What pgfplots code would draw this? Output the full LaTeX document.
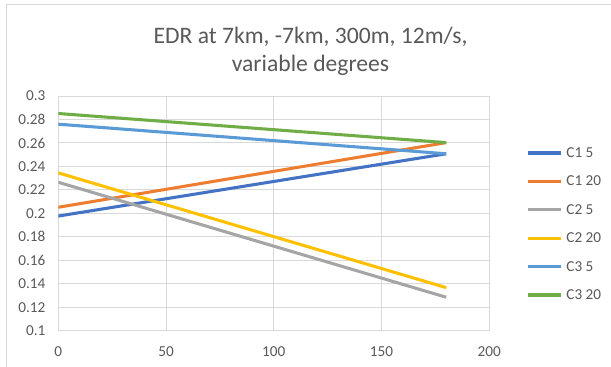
\documentclass[border=0pt]{standalone}
\usepackage{pgfplots}
\pgfplotsset{compat=1.18}
\usepackage{fontspec}
\setmainfont{Carlito}

\definecolor{txtgray}{HTML}{595959}
\definecolor{gridgray}{HTML}{D9D9D9}
\definecolor{sBlue}{HTML}{4472C4}
\definecolor{sOrange}{HTML}{ED7D31}
\definecolor{sGray}{HTML}{A5A5A5}
\definecolor{sYellow}{HTML}{FFC000}
\definecolor{sLightBlue}{HTML}{5B9BD5}
\definecolor{sGreen}{HTML}{70AD47}

\begin{document}
\begin{tikzpicture}[x=0.75pt,y=0.75pt]
  % canvas in pixel units, origin at the bottom left
  \path[use as bounding box] (0,0) rectangle (611,367);
  \draw[gridgray, line width=0.75pt] (6.5,0) -- (6.5,362.5) -- (611,362.5);

  % title
  \node[anchor=base, font=\fontsize{17.7}{21}\selectfont, text=txtgray, inner sep=0pt]
    at (310.5,323.5) {EDR at 7km, -7km, 300m, 12m/s,};
  \node[anchor=base, font=\fontsize{17.7}{21}\selectfont, text=txtgray, inner sep=0pt]
    at (310.5,295.5) {variable degrees};

  \begin{axis}[
    at={(43.725pt,27.225pt)}, anchor=south west,
    scale only axis, width=323.25pt, height=176pt,
    xmin=0, xmax=200, ymin=0.1, ymax=0.3,
    xtick={0,50,100,150,200},
    ytick={0.1,0.12,0.14,0.16,0.18,0.2,0.22,0.24,0.26,0.28,0.3},
    yticklabels={0.1,0.12,0.14,0.16,0.18,0.2,0.22,0.24,0.26,0.28,0.3},
    grid=major,
    major grid style={gridgray, line width=0.75pt},
    axis line style={gridgray, line width=0.75pt},
    major tick length=0pt,
    tick style={draw=none},
    /pgf/number format/assume math mode=true,
    ticklabel style={font=\fontsize{11.4}{13}\selectfont, text=txtgray},
    yticklabel style={xshift=-6.2pt},
    xticklabel style={yshift=-8.4pt},
    legend style={
      at={(1.0868,0.4546)}, anchor=west, draw=none, fill=none,
      inner sep=0pt, outer sep=0pt,
      font=\fontsize{11.4}{13}\selectfont, text=txtgray,
      nodes={inner sep=0pt, text height=7.4pt, text depth=0.6pt},
      row sep=13.3pt, column sep=3pt,
    },
    legend cell align=left,
    legend image code/.code={\draw[#1] (0pt,0pt) -- (24.5pt,0pt);},
    every axis plot/.append style={line width=2.3pt},
  ]
    \addplot[sBlue] coordinates {(0,0.1977) (180,0.2508)};
    \addlegendentry{C1 5}
    \addplot[sOrange] coordinates {(0,0.2052) (180,0.2603)};
    \addlegendentry{C1 20}
    \addplot[sGray] coordinates {(0,0.2265) (180,0.1285)};
    \addlegendentry{C2 5}
    \addplot[sYellow] coordinates {(0,0.2345) (180,0.1367)};
    \addlegendentry{C2 20}
    \addplot[sLightBlue] coordinates {(0,0.2760) (180,0.2508)};
    \addlegendentry{C3 5}
    \addplot[sGreen] coordinates {(0,0.2851) (180,0.2603)};
    \addlegendentry{C3 20}
  \end{axis}
\end{tikzpicture}
\end{document}
